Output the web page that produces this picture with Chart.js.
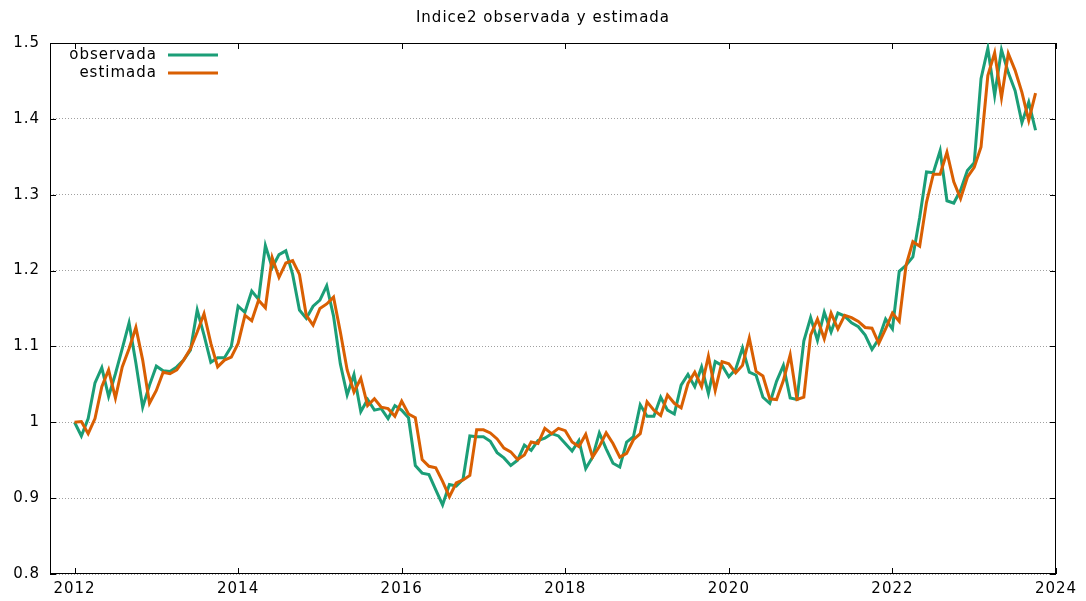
<!DOCTYPE html>
<html>
<head>
<meta charset="utf-8">
<script src="https://cdn.jsdelivr.net/npm/chart.js@4.4.0/dist/chart.umd.min.js"></script>
<style>
  html, body { margin: 0; padding: 0; background: #fff; }
</style>
</head>
<body>
<canvas id="indice" width="1086" height="601"></canvas>
<script>
// monthly series, first point = January 2012
const startYear = 2012;

const observada = [
  1.000, 0.982, 1.005, 1.052, 1.072, 1.034, 1.064, 1.097, 1.131, 1.078, 1.020, 1.049,
  1.074, 1.068, 1.067, 1.073, 1.082, 1.095, 1.148, 1.115, 1.079, 1.085, 1.085, 1.100,
  1.153, 1.145, 1.173, 1.162, 1.233, 1.204, 1.221, 1.226, 1.195, 1.148, 1.137, 1.153,
  1.161, 1.180, 1.140, 1.077, 1.036, 1.063, 1.014, 1.030, 1.016, 1.018, 1.005, 1.022,
  1.016, 1.006, 0.943, 0.933, 0.931, 0.911, 0.891, 0.918, 0.916, 0.925, 0.982, 0.981,
  0.981, 0.975, 0.960, 0.953, 0.943, 0.950, 0.970, 0.963, 0.976, 0.979, 0.985, 0.982,
  0.972, 0.962, 0.976, 0.939, 0.954, 0.986, 0.965, 0.946, 0.941, 0.974, 0.981, 1.023,
  1.008, 1.008, 1.033, 1.016, 1.011, 1.049, 1.063, 1.047, 1.073, 1.038, 1.080, 1.075,
  1.060, 1.070, 1.098, 1.066, 1.062, 1.033, 1.025, 1.054, 1.075, 1.032, 1.030, 1.107,
  1.138, 1.108, 1.145, 1.119, 1.144, 1.140, 1.131, 1.126, 1.115, 1.096, 1.110, 1.136,
  1.123, 1.199, 1.207, 1.218, 1.270, 1.330, 1.329, 1.358, 1.292, 1.289, 1.306, 1.332,
  1.342, 1.453, 1.493, 1.431, 1.491, 1.461, 1.437, 1.395, 1.422, 1.385
];

const estimada = [
  1.000, 1.001, 0.985, 1.005, 1.047, 1.069, 1.032, 1.073, 1.097, 1.125, 1.082, 1.025,
  1.042, 1.066, 1.064, 1.069, 1.082, 1.097, 1.119, 1.143, 1.104, 1.073, 1.082, 1.086,
  1.104, 1.141, 1.134, 1.161, 1.151, 1.217, 1.191, 1.210, 1.213, 1.195, 1.141, 1.128,
  1.150, 1.156, 1.165, 1.119, 1.069, 1.040, 1.058, 1.022, 1.031, 1.020, 1.018, 1.008,
  1.028, 1.011, 1.006, 0.951, 0.942, 0.940, 0.922, 0.902, 0.920, 0.924, 0.930, 0.990,
  0.990, 0.986, 0.978, 0.966, 0.961, 0.951, 0.957, 0.974, 0.972, 0.992, 0.985, 0.992,
  0.989, 0.974, 0.968, 0.984, 0.954, 0.968, 0.986, 0.972, 0.954, 0.959, 0.977, 0.985,
  1.027, 1.016, 1.009, 1.036, 1.025, 1.019, 1.051, 1.066, 1.047, 1.087, 1.042, 1.080,
  1.077, 1.065, 1.075, 1.111, 1.067, 1.061, 1.031, 1.030, 1.055, 1.089, 1.030, 1.033,
  1.115, 1.136, 1.110, 1.144, 1.123, 1.141, 1.138, 1.133, 1.125, 1.124, 1.104, 1.123,
  1.144, 1.133, 1.207, 1.238, 1.232, 1.290, 1.327, 1.327, 1.356, 1.317, 1.295, 1.323,
  1.336, 1.363, 1.457, 1.487, 1.428, 1.486, 1.464, 1.435, 1.398, 1.434
];

const yearTicks = [2012, 2014, 2016, 2018, 2020, 2022, 2024];
const valueTicks = [0.8, 0.9, 1.0, 1.1, 1.2, 1.3, 1.4, 1.5];

const months = observada.map((_, i) => startYear + i / 12);

const verde = '#1b9e77';
const naranja = '#d95f02';
const familia = '"DejaVu Sans", sans-serif';
const fuente = '15px ' + familia;

// frame, inward ticks, title and key drawn gnuplot-style
const gnuplotFrame = {
  id: 'gnuplotFrame',
  beforeDraw(chart) {
    chart.ctx.letterSpacing = '1px';
  },
  beforeDatasetsDraw(chart) {
    const { ctx, chartArea: a, scales } = chart;
    ctx.save();
    ctx.strokeStyle = '#000';
    ctx.lineWidth = 1;
    ctx.strokeRect(a.left + 0.5, a.top + 0.5, a.right - a.left - 1, a.bottom - a.top - 1);
    ctx.beginPath();
    yearTicks.forEach(t => {
      const x = Math.round(scales.x.getPixelForValue(t)) + 0.5;
      ctx.moveTo(x, a.bottom); ctx.lineTo(x, a.bottom - 6);
      ctx.moveTo(x, a.top); ctx.lineTo(x, a.top + 6);
    });
    valueTicks.forEach(v => {
      const y = Math.round(scales.y.getPixelForValue(v)) + 0.5;
      ctx.moveTo(a.left, y); ctx.lineTo(a.left + 6, y);
      ctx.moveTo(a.right, y); ctx.lineTo(a.right - 6, y);
    });
    ctx.stroke();
    ctx.restore();
  },
  afterDraw(chart) {
    const { ctx } = chart;
    ctx.save();
    ctx.fillStyle = '#000';
    ctx.font = fuente;
    ctx.textBaseline = 'middle';
    ctx.textAlign = 'center';
    ctx.fillText('Indice2 observada y estimada', 543, 18);
    ctx.textAlign = 'right';
    const key = [['observada', verde, 55], ['estimada', naranja, 73]];
    key.forEach(([label, color, y]) => {
      ctx.fillStyle = '#000';
      ctx.fillText(label, 157, y);
      ctx.strokeStyle = color;
      ctx.lineWidth = 3;
      ctx.beginPath();
      ctx.moveTo(168, y); ctx.lineTo(218, y);
      ctx.stroke();
    });
    ctx.restore();
  }
};

new Chart(document.getElementById('indice'), {
  type: 'line',
  data: {
    datasets: [
      {
        label: 'estimada',
        data: months.map((t, i) => ({ x: t, y: estimada[i] })),
        borderColor: naranja,
        borderWidth: 3,
        pointRadius: 0,
        order: 0
      },
      {
        label: 'observada',
        data: months.map((t, i) => ({ x: t, y: observada[i] })),
        borderColor: verde,
        borderWidth: 3,
        pointRadius: 0,
        order: 1
      }
    ]
  },
  options: {
    responsive: false,
    animation: false,
    layout: { padding: { top: 43, right: 30, left: 0, bottom: 0 } },
    plugins: { legend: { display: false }, title: { display: false }, tooltip: { enabled: false } },
    scales: {
      x: {
        type: 'linear',
        min: 2011.7,
        max: 2024,
        afterBuildTicks: scale => { scale.ticks = yearTicks.map(v => ({ value: v })); },
        afterFit: scale => { scale.height = 27; },
        grid: { display: false, drawTicks: false },
        border: { display: false },
        ticks: { color: '#000', font: { family: familia, size: 15 }, padding: 6,
                 callback: v => String(v), maxRotation: 0 }
      },
      y: {
        min: 0.8,
        max: 1.5,
        afterBuildTicks: scale => { scale.ticks = valueTicks.map(v => ({ value: v })); },
        afterFit: scale => { scale.width = 50; },
        grid: { color: '#a0a0a0', lineWidth: 1, drawTicks: false },
        border: { display: false, dash: [1, 2] },
        ticks: { color: '#000', font: { family: familia, size: 15 }, padding: 10,
                 callback: v => (v === 1 ? '1' : v.toFixed(1)) }
      }
    }
  },
  plugins: [gnuplotFrame]
});
</script>
</body>
</html>
